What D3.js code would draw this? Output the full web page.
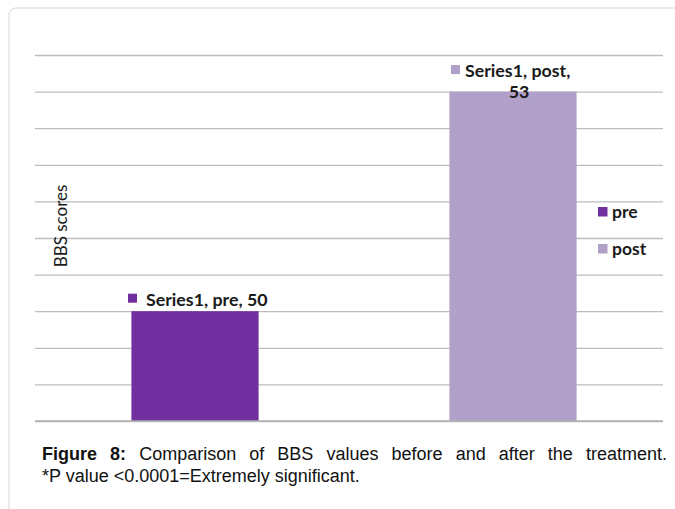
<!DOCTYPE html>
<html>
<head>
<meta charset="utf-8">
<script src="https://cdn.jsdelivr.net/npm/d3@7"></script>
<style>
  html, body { margin: 0; padding: 0; background: #fff; }
  svg { display: block; }
</style>
</head>
<body>
<script>
// BBS scores before and after treatment
const categories = ["pre", "post"];
const seriesName = "Series1";
const values = [50, 53];
const yTicks = [48.5, 49, 49.5, 50, 50.5, 51, 51.5, 52, 52.5, 53, 53.5];
const colors = ["#7030A0", "#B1A0C7"];
const yTitle = "BBS scores";
const captionBold = "Figure 8:";
const captionLine1 = "Comparison of BBS values before and after the treatment.";
const captionLine2 = "*P value <0.0001=Extremely significant.";

const W = 675, H = 509;
const svg = d3.select("body").append("svg").attr("width", W).attr("height", H);
svg.append("rect").attr("width", W).attr("height", H).attr("fill", "#fff");

// panel frame, open to the right and bottom
svg.append("rect")
  .attr("x", 9).attr("y", 8).attr("width", 760).attr("height", 600)
  .attr("rx", 7).attr("fill", "none").attr("stroke", "#d6d6d6").attr("stroke-width", 1);

const plot = { left: 35, right: 663, top: 55, bottom: 421 };

const y = d3.scaleLinear().domain([48.5, 53.5]).range([plot.bottom, plot.top]);
const x = d3.scaleBand().domain(categories).range([36, 672]).paddingInner(0.6).paddingOuter(0.3);

// horizontal gridlines
const grid = svg.append("g").attr("transform", `translate(${plot.left},0)`)
  .call(d3.axisRight(y).tickValues(yTicks).tickSize(plot.right - plot.left).tickFormat(""));
grid.select(".domain").remove();
grid.selectAll(".tick line").attr("stroke", "#bdbdbd").attr("stroke-width", 1.3);

// bars
svg.append("g").selectAll("rect").data(categories).join("rect")
  .attr("x", d => x(d))
  .attr("width", x.bandwidth())
  .attr("y", (d, i) => y(values[i]))
  .attr("height", (d, i) => y.range()[0] - y(values[i]))
  .attr("fill", (d, i) => colors[i]);

// baseline
svg.append("line")
  .attr("x1", plot.left).attr("x2", plot.right)
  .attr("y1", y(48.5)).attr("y2", y(48.5))
  .attr("stroke", "#b0b0b0").attr("stroke-width", 1.5);

const labelFont = "Lato, 'Open Sans', sans-serif";

// data labels with legend keys
const c0 = x("pre") + x.bandwidth() / 2;
const yPre = y(values[0]);
svg.append("rect").attr("x", c0 - 67).attr("y", yPre - 17.5).attr("width", 9).attr("height", 9).attr("fill", colors[0]);
svg.append("text").attr("x", c0 - 49).attr("y", yPre - 5.5)
  .attr("font-family", labelFont).attr("font-weight", 700).attr("font-size", 17.8).attr("fill", "#1a1a1a")
  .text(`${seriesName}, ${categories[0]}, ${values[0]}`);

const c1 = x("post") + x.bandwidth() / 2;
const yPost = y(values[1]);
svg.append("rect").attr("x", c1 - 62).attr("y", yPost - 26.5).attr("width", 9).attr("height", 9).attr("fill", colors[1]);
svg.append("text").attr("x", c1 - 48).attr("y", yPost - 14.5)
  .attr("font-family", labelFont).attr("font-weight", 700).attr("font-size", 17.8).attr("fill", "#1a1a1a")
  .text(`${seriesName}, ${categories[1]},`);
svg.append("text").attr("x", c1 + 6).attr("y", yPost + 6).attr("text-anchor", "middle")
  .attr("font-family", labelFont).attr("font-weight", 700).attr("font-size", 17.8).attr("fill", "#1a1a1a")
  .text(values[1]);

// legend
const legend = svg.append("g").attr("transform", "translate(598,0)");
categories.forEach((c, i) => {
  const ly = 207 + i * 37;
  legend.append("rect").attr("x", 0).attr("y", ly).attr("width", 9.5).attr("height", 9.5).attr("fill", colors[i]);
  legend.append("text").attr("x", 14).attr("y", ly + 11)
    .attr("font-family", labelFont).attr("font-weight", 700).attr("font-size", 17.5).attr("fill", "#1a1a1a")
    .text(c);
});

// y axis title
svg.append("text")
  .attr("transform", `translate(67,226) rotate(-90)`)
  .attr("text-anchor", "middle")
  .attr("font-family", labelFont).attr("font-size", 17).attr("fill", "#1a1a1a")
  .text(yTitle);

// caption, first line justified between the margins
const capFont = "'Liberation Sans', Arial, sans-serif";
const capSize = 18;
const capLeft = 42, capRight = 667;
const words = captionBold.split(" ").map(t => ({ t, b: true }))
  .concat(captionLine1.split(" ").map(t => ({ t, b: false })));
const cap = svg.append("g").attr("font-family", capFont).attr("font-size", capSize).attr("fill", "#111");
const nodes = words.map(w => cap.append("text").attr("y", 460)
  .attr("font-weight", w.b ? 700 : 400).text(w.t));
const widths = nodes.map(n => n.node().getComputedTextLength());
const total = d3.sum(widths);
const gap = (capRight - capLeft - total) / (words.length - 1);
let cx = capLeft;
nodes.forEach((n, i) => { n.attr("x", cx); cx += widths[i] + gap; });
cap.append("text").attr("x", capLeft).attr("y", 482).text(captionLine2);
</script>
</body>
</html>
